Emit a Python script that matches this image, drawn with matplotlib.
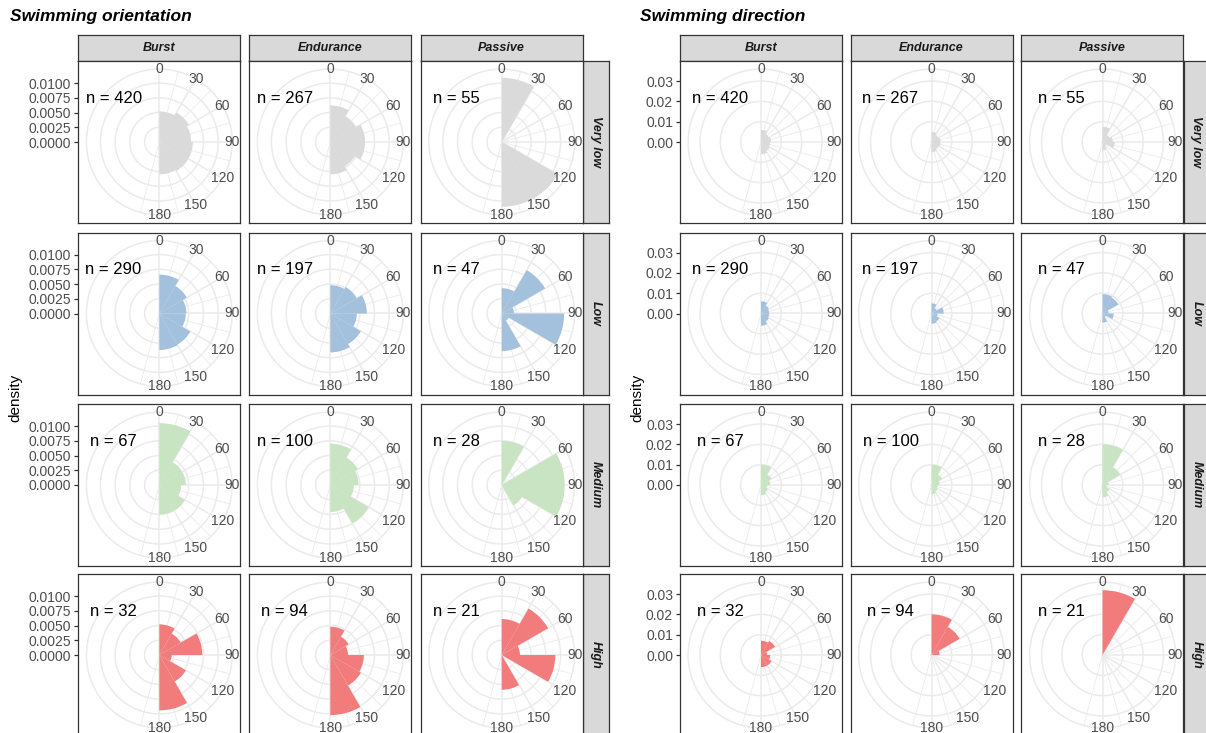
import numpy as np
import matplotlib
matplotlib.use("Agg")
import matplotlib.pyplot as plt

plt.rcParams["font.family"] = ["Liberation Sans", "DejaVu Sans"]

# facets
rows = ["Very low", "Low", "Medium", "High"]
cols = ["Burst", "Endurance", "Passive"]
row_colors = ["#DADADA", "#A3C0DC", "#C8E4C2", "#F27C7C"]

# angle bins (degrees) and axis labels
bin_edges = [0, 30, 60, 90, 120, 150, 180]
angle_labels = [0, 30, 60, 90, 120, 150, 180]
minor_spokes = [15, 45, 75, 105, 135, 165, 195]

n_obs = [[420, 267, 55], [290, 197, 47], [67, 100, 28], [32, 94, 21]]

# density per 30 degree bin, [Burst, Endurance, Passive]
orient_very_low = [[0.0052, 0.0058, 0.0054, 0.0057, 0.0057, 0.0055],
                   [0.0062, 0.0050, 0.0059, 0.0059, 0.0048, 0.0055],
                   [0.0109, 0.0, 0.0, 0.0, 0.0110, 0.0110]]
orient_low = [[0.0066, 0.0054, 0.0046, 0.0045, 0.0061, 0.0062],
              [0.0048, 0.0052, 0.0062, 0.0045, 0.0060, 0.0066],
              [0.0043, 0.0085, 0.0021, 0.0106, 0.0014, 0.0064]]
orient_medium = [[0.0105, 0.0045, 0.0045, 0.0037, 0.0050, 0.0050],
                 [0.0070, 0.0054, 0.0048, 0.0040, 0.0075, 0.0046],
                 [0.0075, 0.0, 0.0107, 0.0107, 0.0040, 0.0]]
orient_high = [[0.0052, 0.0042, 0.0073, 0.0021, 0.0052, 0.0094],
               [0.0048, 0.0036, 0.0030, 0.0057, 0.0060, 0.0102],
               [0.0061, 0.0091, 0.0031, 0.0091, 0.0, 0.0059]]

dir_very_low = [[0.0060, 0.0045, 0.0050, 0.0045, 0.0050, 0.0060],
                [0.0050, 0.0040, 0.0045, 0.0045, 0.0040, 0.0050],
                [0.0075, 0.0040, 0.0050, 0.0060, 0.0020, 0.0040]]
dir_low = [[0.0060, 0.0045, 0.0040, 0.0040, 0.0045, 0.0060],
           [0.0050, 0.0030, 0.0060, 0.0030, 0.0045, 0.0050],
           [0.0095, 0.0090, 0.0030, 0.0055, 0.0020, 0.0045]]
dir_medium = [[0.0100, 0.0060, 0.0045, 0.0030, 0.0040, 0.0050],
              [0.0100, 0.0060, 0.0040, 0.0030, 0.0035, 0.0045],
              [0.0200, 0.0100, 0.0030, 0.0020, 0.0040, 0.0060]]
dir_high = [[0.0070, 0.0080, 0.0030, 0.0045, 0.0060, 0.0060],
            [0.0200, 0.0160, 0.0040, 0.0, 0.0, 0.0],
            [0.0319, 0.0, 0.0, 0.0, 0.0, 0.0]]

orient = [orient_very_low, orient_low, orient_medium, orient_high]
direction = [dir_very_low, dir_low, dir_medium, dir_high]

orient_ticks = [0.0, 0.0025, 0.005, 0.0075, 0.01]
dir_ticks = [0.0, 0.01, 0.02, 0.03]

W, H = 1206, 733
fig = plt.figure(figsize=(W / 100, H / 100), dpi=100)

PANEL = 162
STRIP = 26
row_tops = [61, 232.5, 404, 574]
GRID = "#EBEBEB"


def px(x, y, w, h):
    return [x / W, 1 - (y + h) / H, w / W, h / H]


def strip(ax, label, rot):
    ax.set_facecolor("#D9D9D9")
    ax.set_xticks([])
    ax.set_yticks([])
    for s in ax.spines.values():
        s.set_color("#333333")
        s.set_linewidth(0.9)
    ax.text(0.5, 0.5, label, transform=ax.transAxes, ha="center", va="center",
            rotation=rot, fontsize=9, fontweight="bold", fontstyle="italic", color="#1A1A1A")


def draw_group(col_lefts, data, ticks, fmt, title, title_x, ylab_x, n_dx):
    ymax = max(max(max(v) for v in r) for r in data)
    fig.text(title_x / W, 1 - 17 / H, title, ha="left", va="center", fontsize=12.5,
             fontweight="bold", fontstyle="italic")
    fig.text(ylab_x / W, 1 - 398 / H, "density", ha="center", va="center",
             rotation=90, fontsize=11)
    for j, name in enumerate(cols):
        strip(fig.add_axes(px(col_lefts[j], row_tops[0] - STRIP, PANEL, STRIP)), name, 0)
    for i, row in enumerate(rows):
        strip(fig.add_axes(px(col_lefts[-1] + PANEL, row_tops[i], STRIP, PANEL)), row, -90)
        for j in range(3):
            x0, y0 = col_lefts[j], row_tops[i]
            ax = fig.add_axes(px(x0, y0, PANEL, PANEL))
            lim = ymax * 1.25
            ax.set_xlim(-lim, lim)
            ax.set_ylim(-lim, lim)
            ax.set_xticks([])
            if j == 0:
                ax.set_yticks(ticks)
                ax.set_yticklabels([fmt.format(t) for t in ticks])
                ax.tick_params(axis="y", length=3, width=0.9, color="#333333",
                               labelcolor="#4D4D4D", labelsize=10, pad=2)
            else:
                ax.set_yticks([])
            for s in ax.spines.values():
                s.set_color("#333333")
                s.set_linewidth(0.9)

            off = PANEL * 0.05
            pax = fig.add_axes(px(x0 + off, y0 + off, PANEL * 0.9, PANEL * 0.9),
                               projection="polar")
            pax.patch.set_alpha(0)
            pax.set_theta_zero_location("N")
            pax.set_theta_direction(-1)
            pax.set_axisbelow(True)
            rtop = ymax * 1.125
            pax.set_ylim(0, rtop)
            pax.set_yticks(ticks[1:])
            pax.set_yticklabels([])
            pax.set_xticks(np.deg2rad(angle_labels))
            pax.set_xticks(np.deg2rad(minor_spokes), minor=True)
            pax.set_xticklabels([])
            pax.tick_params(which="both", length=0)
            pax.xaxis.grid(True, which="major", color=GRID, lw=1.1)
            pax.xaxis.grid(True, which="minor", color=GRID, lw=0.6)
            pax.yaxis.grid(True, color=GRID, lw=1.1)
            pax.spines["polar"].set_color(GRID)
            pax.spines["polar"].set_linewidth(1.1)
            pax.bar(np.deg2rad(bin_edges[:-1]), data[i][j], width=np.deg2rad(30),
                    align="edge", color=row_colors[i], edgecolor="none", linewidth=0)
            for a in angle_labels:
                pax.text(np.deg2rad(a), rtop, str(a), ha="center", va="center",
                         fontsize=10, color="#4D4D4D")
            fig.text((x0 + n_dx) / W, 1 - (y0 + 37.5) / H, f"n = {n_obs[i][j]}",
                     ha="center", va="center", fontsize=12)


draw_group([78.3, 249.3, 420.7], orient, orient_ticks, "{:.4f}",
           "Swimming orientation", 10, 15, 35.3)
draw_group([680, 850.5, 1021.5], direction, dir_ticks, "{:.2f}",
           "Swimming direction", 640, 637, 40)

fig.savefig("out.png", dpi=100)
